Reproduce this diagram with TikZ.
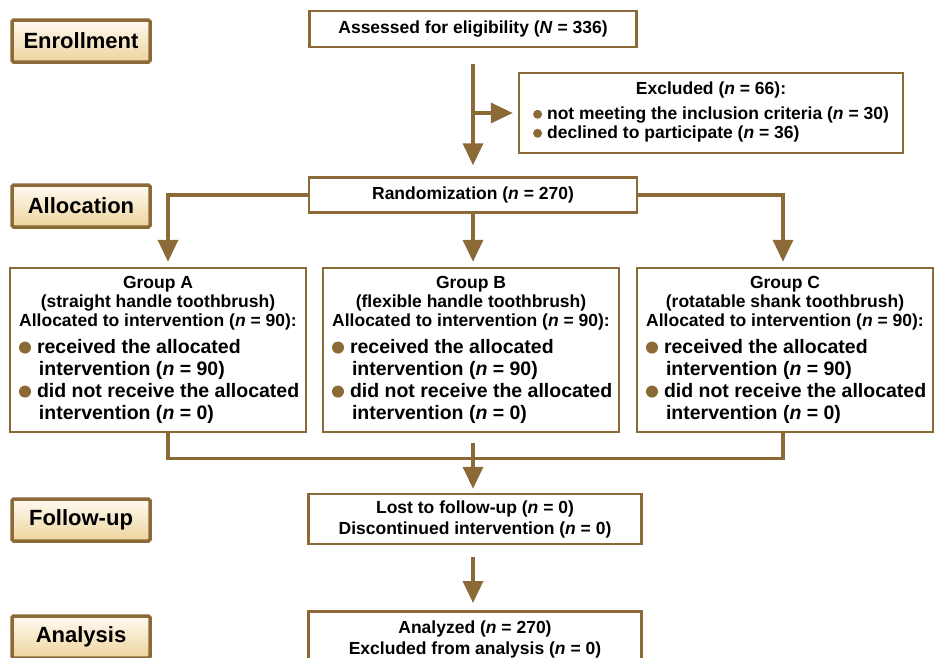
\documentclass[tikz,border=0pt]{standalone}
\usepackage{fontspec}
\setmainfont{Liberation Sans}
\usepackage{tikz}
\usetikzlibrary{arrows.meta}
\definecolor{brn}{HTML}{8B6A37}
\definecolor{cream}{HTML}{FFFAF2}
\definecolor{sand}{HTML}{EDD49C}
\tikzset{
  stage/.style={draw=brn, line width=3.5pt, rounded corners=1.5pt, top color=cream, bottom color=sand,
    minimum width=138pt, minimum height=42pt, inner sep=0pt, font=\fontsize{22}{24}\selectfont\bfseries},
  box/.style={draw=brn, line width=2.5pt, fill=white, inner sep=0pt, align=center,
    font=\fontsize{17.5}{21}\selectfont\bfseries},
  grp/.style={box, minimum width=296pt, minimum height=164pt},
  link/.style={draw=brn, line width=3.5pt},
  arr/.style={link, -{Triangle[width=20pt,length=22pt]}}
}
\newcommand\dotb[1]{\tikz[baseline=-0.55ex]\fill[brn] (0,0) circle (#1);}
\newcommand\grptext[2]{%
  \begin{minipage}[c][158pt][t]{292pt}
  \vspace*{5pt}
  \centering\fontsize{17.5}{19}\selectfont
  #1\\ #2\\ Allocated to intervention (\textit{n} = 90):\par
  \vspace{7pt}\raggedright\fontsize{19.5}{22}\selectfont
  \begin{tabular}{@{}l@{}}
  \hspace*{7pt}\dotb{6pt}\hspace{6pt}received the allocated\\
  \hspace*{27pt}intervention (\textit{n} = 90)\\
  \hspace*{7pt}\dotb{6pt}\hspace{6pt}did not receive the allocated\\
  \hspace*{27pt}intervention (\textit{n} = 0)
  \end{tabular}
  \end{minipage}}

\begin{document}
\begin{tikzpicture}[x=1pt,y=-1pt]
\useasboundingbox (0,0) rectangle (934,657);
\clip (0,0) rectangle (934,657);

% stage labels
\node[stage] (enroll) at (81,41) {Enrollment};
\node[stage] (alloc) at (81,206) {Allocation};
\node[stage] (follow) at (81,520) {Follow-up};
\node[stage] (analysis) at (81,637) {Analysis};

% main column
\node[box, minimum width=327pt, minimum height=36pt] (assess) at (473,29) {Assessed for eligibility (\textit{N} = 336)};
\node[box, minimum width=384pt, minimum height=80pt] (excl) at (711,113)
  {Excluded (\textit{n} = 66):\\[6pt]
   \begin{tabular}{@{}l@{}}
   \dotb{4.5pt}\hspace{5pt}not meeting the inclusion criteria (\textit{n} = 30)\\[-2pt]
   \dotb{4.5pt}\hspace{5pt}declined to participate (\textit{n} = 36)
   \end{tabular}};
\node[box, minimum width=328pt, minimum height=35pt] (rand) at (473,195) {Randomization (\textit{n} = 270)};

\node[grp] (grpA) at (158,350) {\grptext{Group A}{(straight handle toothbrush)}};
\node[grp] (grpB) at (471,350) {\grptext{Group B}{(flexible handle toothbrush)}};
\node[grp] (grpC) at (785,350) {\grptext{Group C}{(rotatable shank toothbrush)}};

\node[box, minimum width=333pt, minimum height=50pt] (lost) at (475,519)
  {Lost to follow-up (\textit{n} = 0)\\Discontinued intervention (\textit{n} = 0)};
\node[box, minimum width=333pt, minimum height=56pt, anchor=north] (anal) at (475,610)
  {Analyzed (\textit{n} = 270)\\Excluded from analysis (\textit{n} = 0)};

% connectors
\coordinate (top) at (473,64);
\draw[arr] (top) -- ([yshift=11pt]rand.north -| top);
\draw[arr, shorten >=5pt] (top |- excl.west) -- (excl.west);
\draw[arr] (rand.west) -| ([xshift=10pt,yshift=5pt]grpA.north);
\draw[arr] (rand.east) -| ([xshift=-2pt,yshift=5pt]grpC.north);
\draw[arr] (rand.south -| top) -- ([yshift=5pt]grpB.north -| top);
\draw[link] ([xshift=10pt]grpA.south) -- ++(0,25) -| ([xshift=-2pt]grpC.south);
\coordinate (join) at (473,443);
\draw[arr] (join) -- ([yshift=4pt]lost.north -| join);
\draw[arr] ([yshift=-12pt]lost.south -| join) -- ([yshift=7pt]anal.north -| join);
\end{tikzpicture}
\end{document}
